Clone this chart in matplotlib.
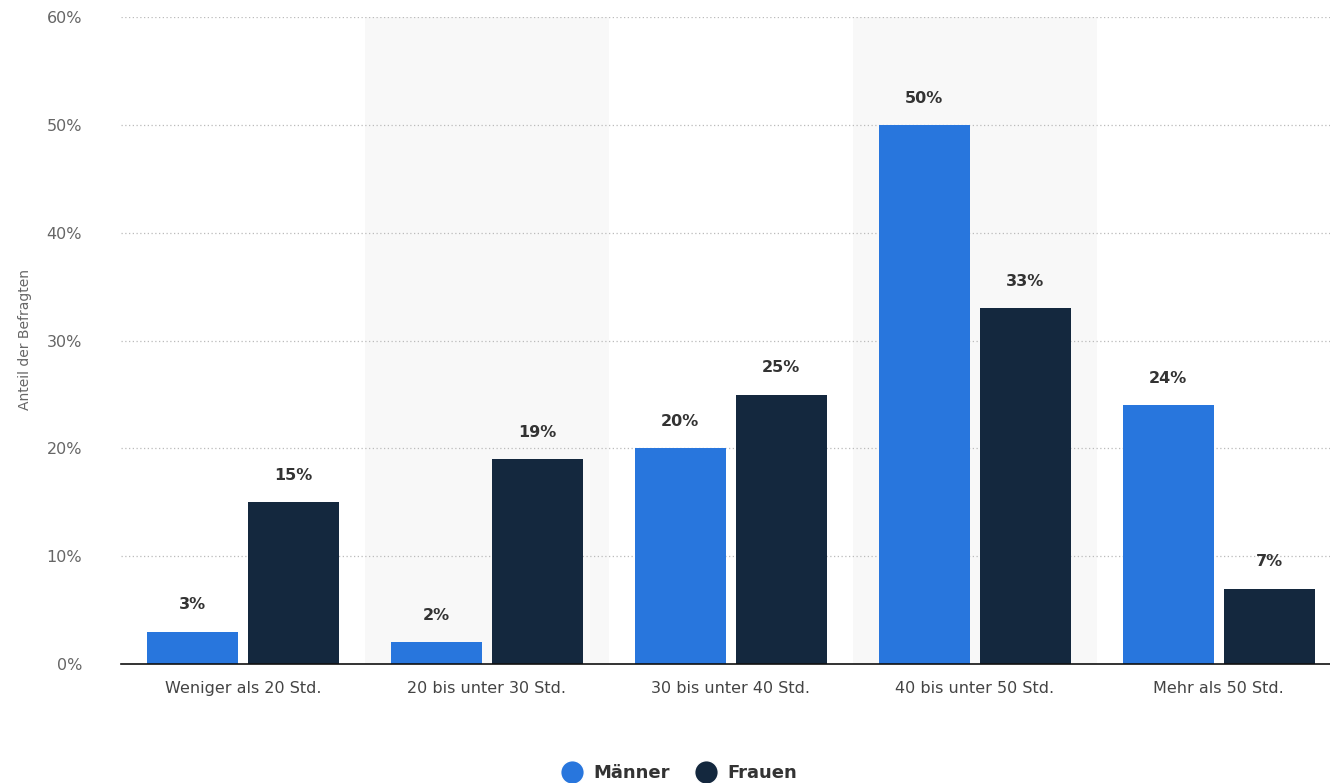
import matplotlib
matplotlib.use('Agg')
import matplotlib.pyplot as plt
import numpy as np
from matplotlib.lines import Line2D

categories = ["Weniger als 20 Std.", "20 bis unter 30 Std.", "30 bis unter 40 Std.",
              "40 bis unter 50 Std.", "Mehr als 50 Std."]
maenner = [3, 2, 20, 50, 24]
frauen = [15, 19, 25, 33, 7]
yticks = [0, 10, 20, 30, 40, 50, 60]

blue = "#2876dd"
dark = "#14283e"

fig = plt.figure(figsize=(13.3, 7.83), dpi=100)
# axes runs slightly past the right edge, like the source
ax = fig.add_axes([0.091, 0.152, 0.917, 0.826])

x = np.arange(len(categories))
w = 0.373
off = 0.207

for i in x:
    if i % 2 == 1:
        ax.axvspan(i - 0.5, i + 0.5, color="#f8f8f8", zorder=0, lw=0)

ax.bar(x - off, maenner, w, color=blue, zorder=3)
ax.bar(x + off, frauen, w, color=dark, zorder=3)

for xi, v in zip(x - off, maenner):
    ax.text(xi, v + 1.8, f"{v}%", ha="center", va="bottom", fontsize=11.5,
            fontweight="bold", color="#333333")
for xi, v in zip(x + off, frauen):
    ax.text(xi, v + 1.8, f"{v}%", ha="center", va="bottom", fontsize=11.5,
            fontweight="bold", color="#333333")

ax.set_xlim(-0.5, len(categories) - 0.5)
ax.set_ylim(0, 60)
ax.set_yticks(yticks)
ax.set_yticklabels([f"{t}%" for t in yticks], fontsize=11.5, color="#666666")
ax.set_xticks(x)
ax.set_xticklabels(categories, fontsize=11.5, color="#444444")
ax.tick_params(axis="y", length=0, pad=28)
ax.tick_params(axis="x", length=0, pad=12)

for t in yticks[1:]:
    ax.axhline(t, color="#bbbbbb", linestyle=(0, (1, 2)), linewidth=0.9, zorder=1)

for s in ["top", "right", "left"]:
    ax.spines[s].set_visible(False)
ax.spines["bottom"].set_color("#111111")
ax.spines["bottom"].set_linewidth(1.2)
ax.spines["bottom"].set_zorder(4)

fig.text(0.019, 0.566, "Anteil der Befragten", rotation=90, ha="center", va="center",
         fontsize=10, color="#666666")

handles = [Line2D([0], [0], marker="o", color="w", markerfacecolor=blue, markersize=17),
           Line2D([0], [0], marker="o", color="w", markerfacecolor=dark, markersize=17)]
leg = fig.legend(handles, ["Männer", "Frauen"], loc="center", bbox_to_anchor=(0.508, 0.013),
                 ncol=2, frameon=False, handletextpad=0.2, columnspacing=1.0,
                 prop={"weight": "bold", "size": 13})
for t in leg.get_texts():
    t.set_color("#333333")

fig.savefig("out.png", dpi=100)
